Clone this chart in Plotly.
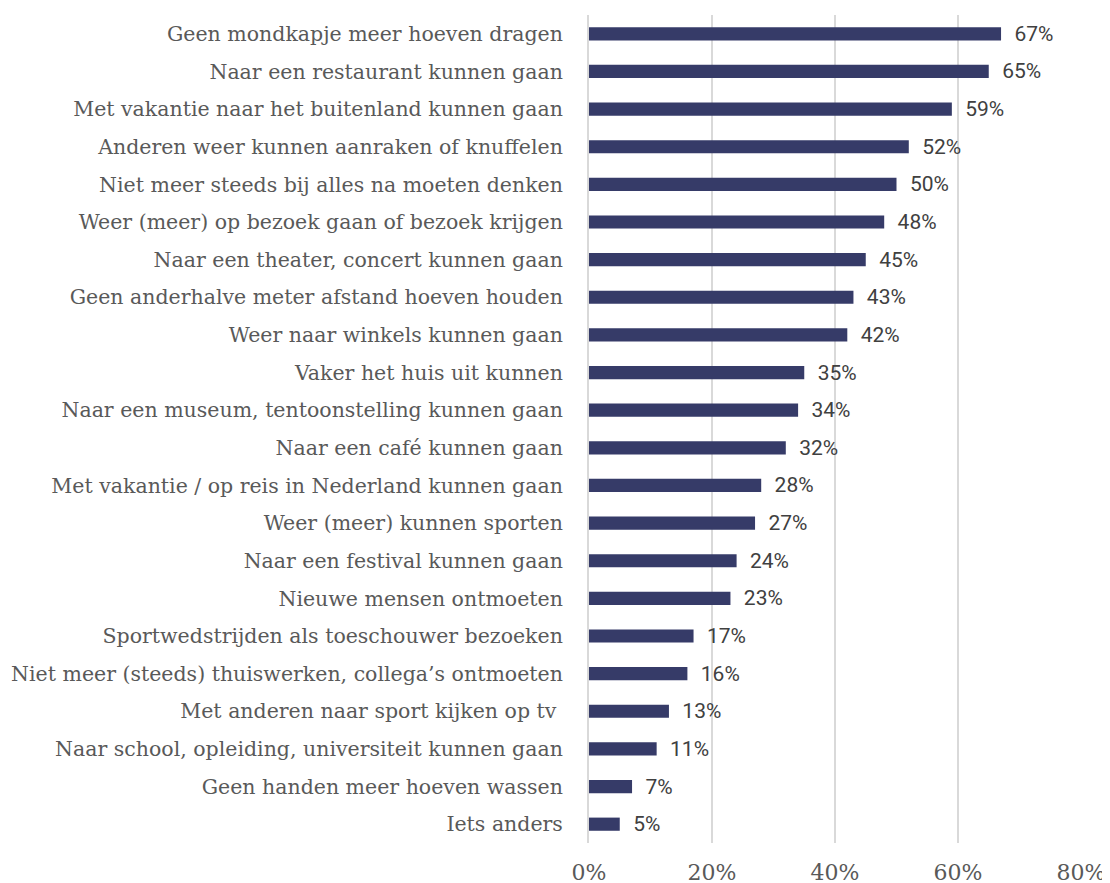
import plotly.graph_objects as go

# Items, top to bottom as in the chart
categories = [
    "Geen mondkapje meer hoeven dragen",
    "Naar een restaurant kunnen gaan",
    "Met vakantie naar het buitenland kunnen gaan",
    "Anderen weer kunnen aanraken of knuffelen",
    "Niet meer steeds bij alles na moeten denken",
    "Weer (meer) op bezoek gaan of bezoek krijgen",
    "Naar een theater, concert kunnen gaan",
    "Geen anderhalve meter afstand hoeven houden",
    "Weer naar winkels kunnen gaan",
    "Vaker het huis uit kunnen",
    "Naar een museum, tentoonstelling kunnen gaan",
    "Naar een café kunnen gaan",
    "Met vakantie / op reis in Nederland kunnen gaan",
    "Weer (meer) kunnen sporten",
    "Naar een festival kunnen gaan",
    "Nieuwe mensen ontmoeten",
    "Sportwedstrijden als toeschouwer bezoeken",
    "Niet meer (steeds) thuiswerken, collega’s ontmoeten",
    "Met anderen naar sport kijken op tv ",
    "Naar school, opleiding, universiteit kunnen gaan",
    "Geen handen meer hoeven wassen",
    "Iets anders",
]
values = [67, 65, 59, 52, 50, 48, 45, 43, 42, 35, 34, 32, 28, 27, 24, 23, 17, 16, 13, 11, 7, 5]
tick_vals = [0, 20, 40, 60, 80]
tick_text = ["0%", "20%", "40%", "60%", "80%"]

BAR_COLOR = "#363B68"
TEXT_GRAY = "#595959"

fig = go.Figure(go.Bar(
    x=values, y=categories, orientation="h",
    marker_color=BAR_COLOR, marker_line_width=0,
    text=[f"  {v}%" for v in values], textposition="outside",
    constraintext="none",
    textfont=dict(family="Roboto", size=21, color="#404040"),
    cliponaxis=False,
))

# page body has an 8px margin, so margins are shifted by 8px
fig.update_layout(
    width=1110, height=883,
    margin=dict(l=581, r=37, t=7, b=48),
    plot_bgcolor="white", paper_bgcolor="white",
    bargap=0.65, showlegend=False,
)
fig.update_xaxes(
    range=[0, 80], tickvals=tick_vals, ticktext=tick_text,
    showgrid=True, gridcolor="#D9D9D9", gridwidth=2,
    zeroline=False, showline=False, automargin=False,
    tickfont=dict(family="DejaVu Serif", size=22, color=TEXT_GRAY),
    ticklabelstandoff=14,
)
fig.update_yaxes(
    categoryorder="array", categoryarray=categories[::-1],
    showgrid=False, zeroline=False, automargin=False,
    showline=True, linecolor="#D9D9D9", linewidth=2,
    tickfont=dict(family="DejaVu Serif", size=20.5, color=TEXT_GRAY),
    ticklabelstandoff=20,
)

fig.write_html("out.html")
